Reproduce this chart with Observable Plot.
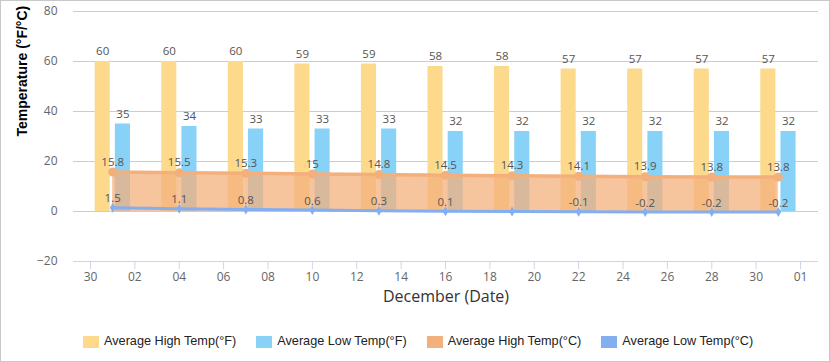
<!DOCTYPE html>
<html>
<head>
<meta charset="utf-8">
<script src="https://cdn.jsdelivr.net/npm/d3@7"></script>
<script src="https://cdn.jsdelivr.net/npm/@observablehq/plot@0.6"></script>
<style>
  html, body { margin: 0; padding: 0; background: #fff; }
  #wrap { position: relative; width: 830px; height: 362px; overflow: hidden; background: #fff; }
  #frame { position: absolute; left: 0; top: 0; width: 830px; height: 362px; box-sizing: border-box; border: 1px solid #c8c8c8; pointer-events: none; }
  #chart { position: absolute; left: 0; top: 0; }
  #legend { position: absolute; left: 83px; top: 334px; display: flex;
            font-family: "Liberation Sans", Arial, sans-serif; font-size: 12.7px; color: #222; line-height: 15px; }
  .item { display: flex; align-items: center; margin-right: 20px; white-space: nowrap; }
  .sw { width: 16px; height: 12px; margin-right: 5px; }
</style>
</head>
<body>
<div id="wrap">
  <div id="chart"></div>
  <div id="legend"></div>
  <div id="frame"></div>
</div>
<script>
const dates = ["2023-12-01","2023-12-04","2023-12-07","2023-12-10","2023-12-13","2023-12-16","2023-12-19","2023-12-22","2023-12-25","2023-12-28","2023-12-31"];
const highF = [60, 60, 60, 59, 59, 58, 58, 57, 57, 57, 57];
const lowF  = [35, 34, 33, 33, 33, 32, 32, 32, 32, 32, 32];
const highC = [15.8, 15.5, 15.3, 15, 14.8, 14.5, 14.3, 14.1, 13.9, 13.8, 13.8];
const lowC  = [1.5, 1.1, 0.8, 0.6, 0.3, 0.1, 0, -0.1, -0.2, -0.2, -0.2];
const xTickDates = ["2023-11-30","2023-12-02","2023-12-04","2023-12-06","2023-12-08","2023-12-10","2023-12-12","2023-12-14","2023-12-16","2023-12-18","2023-12-20","2023-12-22","2023-12-24","2023-12-26","2023-12-28","2023-12-30","2024-01-01"];
const yTicks = [-20, 0, 20, 40, 60, 80];
const seriesNames = ["Average High Temp(°F)", "Average Low Temp(°F)", "Average High Temp(°C)", "Average Low Temp(°C)"];
const seriesColors = ["#FDDA8B", "#88D2F8", "#F3B07C", "#84AEF2"];
const xTitle = "December (Date)";
const yTitle = "Temperature (°F/°C)";

const DAY = 864e5;
const parse = d3.utcParse("%Y-%m-%d");
const data = dates.map((d, i) => ({date: parse(d), highF: highF[i], lowF: lowF[i], highC: highC[i], lowC: lowC[i]}));
const xt = xTickDates.map(parse);
const shift = (d, k) => new Date(+d + k * DAY);

const labelFont = "'Open Sans', 'DejaVu Sans', sans-serif";

const plot = Plot.plot({
  width: 830,
  height: 310,
  marginLeft: 73,
  marginRight: 12,
  marginTop: 11,
  marginBottom: 49,
  style: {fontFamily: labelFont, fontSize: "12px", background: "transparent"},
  x: {type: "utc", domain: [shift(xt[0], -0.766), shift(xt[xt.length - 1], 0.811)], axis: null},
  y: {domain: [-20, 80], axis: null},
  marks: [
    Plot.ruleY(yTicks.filter(v => v !== -20), {stroke: "#cccccc", strokeWidth: 1}),
    Plot.ruleY([-20], {stroke: "#ccd6eb", strokeWidth: 1}),
    Plot.axisX({ticks: xt, tickFormat: d3.utcFormat("%d"), tickSize: 8, tickPadding: 3, stroke: "#ccd6eb", fill: "#666", label: null, fontSize: 12}),
    Plot.axisY({ticks: yTicks, tickSize: 0, tickPadding: 16, fill: "#666", label: null, fontSize: 12}),
    Plot.rectY(data, {x1: d => shift(d.date, -0.79), x2: d => shift(d.date, -0.11), y1: 0, y2: "highF", fill: seriesColors[0]}),
    Plot.rectY(data, {x1: d => shift(d.date, 0.12), x2: d => shift(d.date, 0.80), y1: 0, y2: "lowF", fill: seriesColors[1]}),
    Plot.areaY(data, {x: "date", y: "highC", fill: seriesColors[2], fillOpacity: 0.75}),
    Plot.lineY(data, {x: "date", y: "highC", stroke: seriesColors[2], strokeWidth: 3.5}),
    Plot.dot(data, {x: "date", y: "highC", r: 4.5, fill: seriesColors[2]}),
    Plot.lineY(data, {x: "date", y: "lowC", stroke: seriesColors[3], strokeWidth: 3}),
    Plot.dot(data, {x: "date", y: "lowC", r: 3, symbol: "diamond", fill: seriesColors[3]}),
    Plot.text(data, {x: d => shift(d.date, -0.45), y: "highF", text: d => String(d.highF), dy: -10, fill: "#555", fontSize: 11.5}),
    Plot.text(data, {x: d => shift(d.date, 0.46), y: "lowF", text: d => String(d.lowF), dy: -10, fill: "#555", fontSize: 11.5}),
    Plot.text(data, {x: "date", y: "highC", text: d => String(d.highC), dy: -10, fill: "#555", fontSize: 11.5}),
    Plot.text(data.filter(d => d.lowC !== 0), {x: "date", y: "lowC", text: d => String(d.lowC), dy: -9, fill: "#555", fontSize: 11.5}),
    Plot.text([xTitle], {frameAnchor: "bottom", dy: 40, fill: "#333", fontSize: 16}),
    Plot.text([yTitle], {frameAnchor: "left", dx: -51, rotate: -90, fill: "#000", fontSize: 14, fontWeight: "bold", fontFamily: "'Liberation Sans', Arial, sans-serif"})
  ]
});
document.getElementById("chart").appendChild(plot);

const legend = document.getElementById("legend");
seriesNames.forEach((name, i) => {
  const it = document.createElement("div");
  it.className = "item";
  const sw = document.createElement("div");
  sw.className = "sw";
  sw.style.background = seriesColors[i];
  const tx = document.createElement("span");
  tx.textContent = name;
  it.appendChild(sw);
  it.appendChild(tx);
  legend.appendChild(it);
});
</script>
</body>
</html>
